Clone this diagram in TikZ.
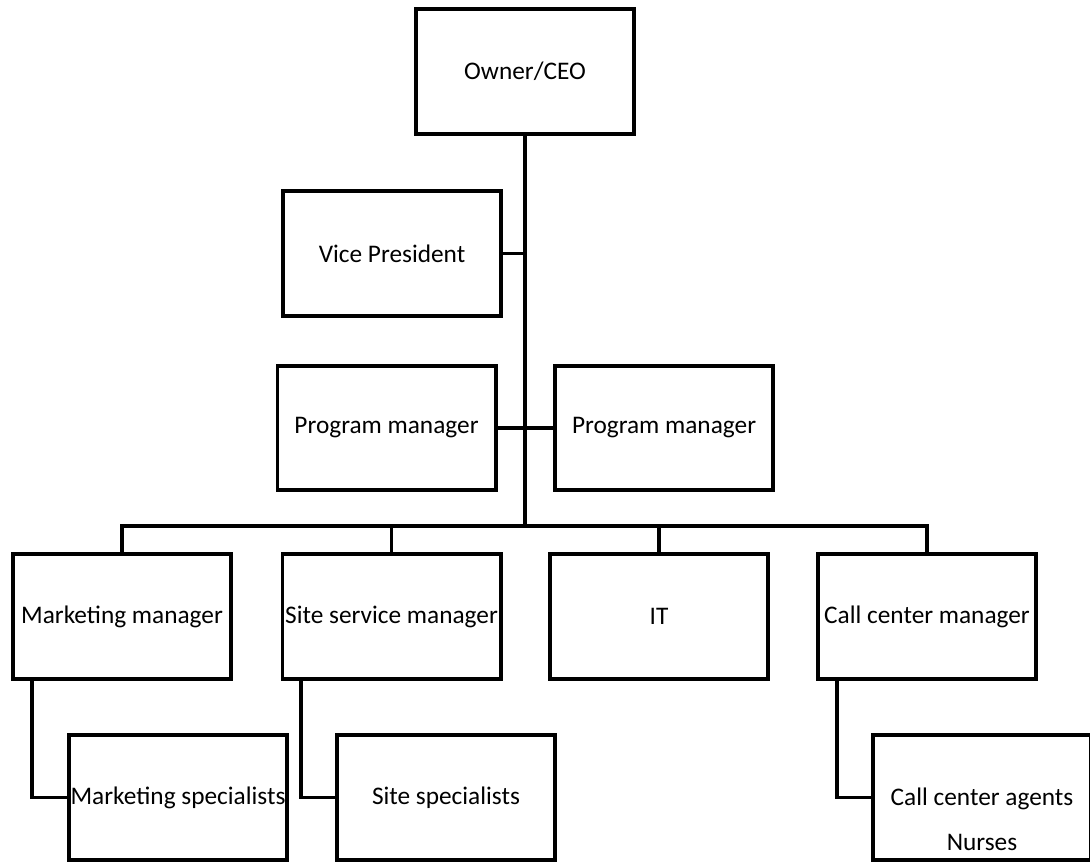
\documentclass[tikz,border=0pt]{standalone}
\usepackage{fontspec}
\setmainfont{Carlito}
\usetikzlibrary{calc}

\begin{document}
\begin{tikzpicture}[x=0.025cm, y=-0.025cm,
  box/.style={draw, line width=2.8pt, minimum width=5.45cm, minimum height=3.12cm,
    inner sep=0pt, align=center, font=\fontsize{18}{32}\selectfont},
  link/.style={line width=2.8pt}]
\useasboundingbox (0,0) rectangle (1090,863);

% Top of the chart
\node[box] (ceo) at (525,71.5) {Owner/CEO};
\node[box] (vp) at (392,253.5) {Vice President};
\node[box] (pmleft) at (386.5,428) {Program manager};
\node[box] (pmright) at (664,428) {Program manager};
\coordinate (bus) at (525,526);

% Managers
\node[box] (mktmgr) at (122,616.5) {Marketing manager};
\node[box] (sitemgr) at (391.5,616.5) {Site service manager};
\node[box] (it) at (659,616.5) {IT};
\node[box] (callmgr) at (927,616.5) {Call center manager};

% Staff
\node[box] (mktspec) at (178,797.5) {Marketing specialists};
\node[box] (sitespec) at (446,797.5) {Site specialists};
\node[box] (agents) at (982,797.5) {\vphantom{Cg}\\Call center agents\\Nurses};

% Lines
\draw[link] (ceo) -- (bus);
\draw[link] (vp.east) -- (vp.east -| bus);
\draw[link] (pmleft.east) -- (pmright.west);
\draw[link] (mktmgr.north) |- (bus) -| (callmgr.north);
\draw[link] (sitemgr.north) -- (sitemgr.north |- bus);
\draw[link] (it.north) -- (it.north |- bus);
\draw[link] ([xshift=0.52cm]mktmgr.south west) |- (mktspec.west);
\draw[link] ([xshift=0.52cm]sitemgr.south west) |- (sitespec.west);
\draw[link] ([xshift=0.52cm]callmgr.south west) |- (agents.west);
\end{tikzpicture}
\end{document}
